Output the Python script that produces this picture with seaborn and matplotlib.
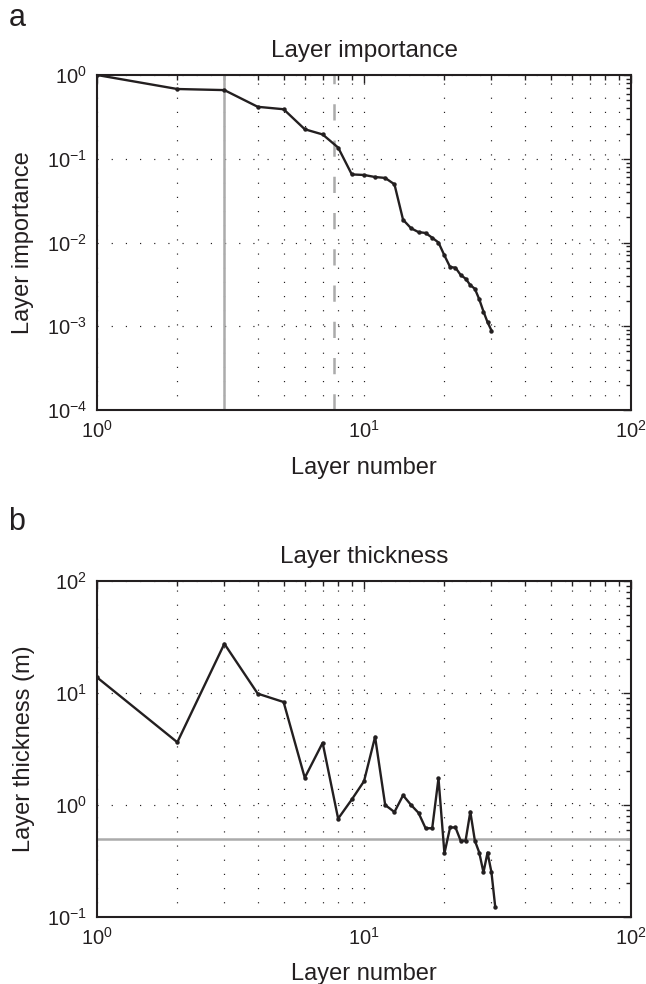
import numpy as np
import pandas as pd
import matplotlib
matplotlib.use("Agg")
import matplotlib.pyplot as plt
import matplotlib.ticker as mticker
import seaborn as sns

# ---------------------------------------------------------------
# data
# ---------------------------------------------------------------
layer_imp = list(range(1, 31))
importance = [1.0, 0.68, 0.66, 0.417, 0.39, 0.225, 0.195, 0.136, 0.065, 0.064,
              0.0605, 0.059, 0.0495, 0.0187, 0.0148, 0.0133, 0.013, 0.0114, 0.0100, 0.0070,
              0.0051, 0.0050, 0.0041, 0.0037, 0.0031, 0.0028, 0.0021, 0.0015, 0.00112, 0.00089]

layer_thk = list(range(1, 32))
thickness = [13.8, 3.63, 27.5, 9.86, 8.3, 1.75, 3.59, 0.755, 1.12, 1.63,
             4.06, 1.0, 0.865, 1.22, 1.0, 0.85, 0.62, 0.62, 1.73, 0.37,
             0.63, 0.63, 0.48, 0.48, 0.87, 0.48, 0.376, 0.25, 0.376, 0.25, 0.122]

cut_solid = 3.0      # grey solid line, panel a
cut_dashed = 7.75    # grey dashed line, panel a
thk_limit = 0.5      # grey horizontal line, panel b

df_imp = pd.DataFrame({"layer": layer_imp, "value": importance})
df_thk = pd.DataFrame({"layer": layer_thk, "value": thickness})

# ---------------------------------------------------------------
# style (matlab-like)
# ---------------------------------------------------------------
sns.set_style("white")
plt.rcParams["font.family"] = ["Liberation Sans", "DejaVu Sans"]
plt.rcParams["mathtext.fontset"] = "custom"
plt.rcParams["mathtext.rm"] = "Liberation Sans"
plt.rcParams["mathtext.it"] = "Liberation Sans"

BLACK = "#231f20"
GREY = "#ababab"
FS_TICK = 14.5
FS_LAB = 17
FS_TITLE = 17.5

fig = plt.figure(figsize=(6.46, 9.84), dpi=100)
ax_a = fig.add_axes([0.150, 0.5833, 0.827, 0.3405])
ax_b = fig.add_axes([0.150, 0.0681, 0.827, 0.3415])


def style_axes(ax, ylim, title):
    ax.set_xscale("log")
    ax.set_yscale("log")
    ax.set_xlim(1, 100)
    ax.set_ylim(*ylim)
    ax.set_title(title, fontsize=FS_TITLE, color=BLACK, pad=13)
    ax.yaxis.set_major_locator(mticker.LogLocator(base=10, numticks=10))
    ax.yaxis.set_minor_locator(mticker.LogLocator(base=10, subs=np.arange(2, 10), numticks=10))
    ax.xaxis.set_minor_locator(mticker.LogLocator(base=10, subs=np.arange(2, 10), numticks=10))
    ax.yaxis.set_minor_formatter(mticker.NullFormatter())
    ax.xaxis.set_minor_formatter(mticker.NullFormatter())
    ax.tick_params(which="both", direction="in", top=True, right=True,
                   colors=BLACK, labelsize=FS_TICK, width=1.0)
    ax.tick_params(which="major", length=6, pad=7)
    ax.tick_params(which="minor", length=3.5)
    for sp in ax.spines.values():
        sp.set_linewidth(1.5)
        sp.set_color(BLACK)
    # dotted grid: x major + minor, y major only
    ax.grid(True, which="both", axis="x", color=BLACK, linestyle=(0, (1, 11)), linewidth=0.85)
    ax.grid(True, which="major", axis="y", color=BLACK, linestyle=(0, (1, 11)), linewidth=0.85)
    ax.set_axisbelow(True)


# panel a
style_axes(ax_a, (1e-4, 1), "Layer importance")
ax_a.axvline(cut_solid, color=GREY, linewidth=1.8, zorder=2)
ax_a.axvline(cut_dashed, color=GREY, linewidth=1.8, linestyle=(0, (6.5, 8)), zorder=2)
sns.lineplot(data=df_imp, x="layer", y="value", ax=ax_a, color=BLACK, linewidth=1.7,
             marker="o", markersize=3.2, markeredgewidth=0, zorder=3)
ax_a.set_xlabel("Layer number", fontsize=FS_LAB, color=BLACK, labelpad=11)
ax_a.set_ylabel("Layer importance", fontsize=FS_LAB, color=BLACK, labelpad=9)

# panel b
style_axes(ax_b, (0.1, 100), "Layer thickness")
ax_b.axhline(thk_limit, color=GREY, linewidth=1.8, zorder=2)
sns.lineplot(data=df_thk, x="layer", y="value", ax=ax_b, color=BLACK, linewidth=1.7,
             marker="o", markersize=3.2, markeredgewidth=0, zorder=3)
ax_b.set_xlabel("Layer number", fontsize=FS_LAB, color=BLACK, labelpad=10)
ax_b.set_ylabel("Layer thickness (m)", fontsize=FS_LAB, color=BLACK, labelpad=9)

fig.text(0.026, 0.982, "a", fontsize=22, color=BLACK, ha="center", va="center")
fig.text(0.026, 0.470, "b", fontsize=22, color=BLACK, ha="center", va="center")

fig.savefig("out.png", dpi=100, facecolor="white")
